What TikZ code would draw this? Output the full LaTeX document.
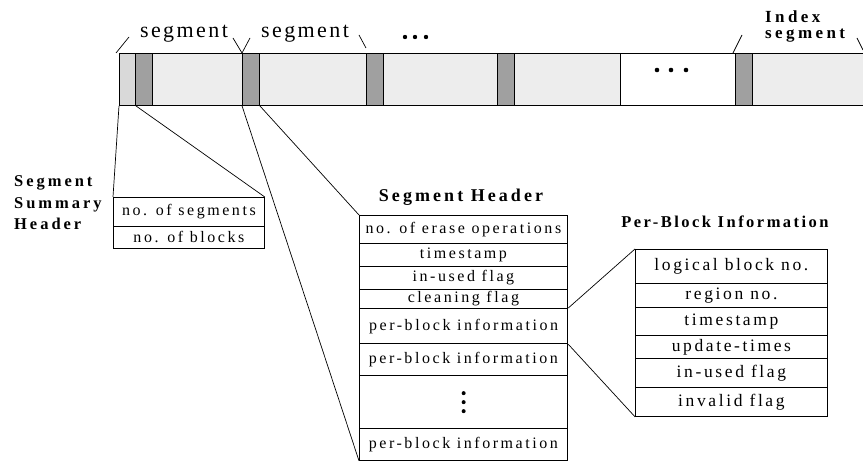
\documentclass[tikz,border=0pt]{standalone}
\usepackage{fontspec}
\setmainfont{Liberation Serif}
\newfontfamily\boxfont[LetterSpace=16]{Liberation Serif}
\newfontfamily\pbboxfont[LetterSpace=15]{Liberation Serif}
\newfontfamily\labfont[LetterSpace=11]{Liberation Serif}
\newfontfamily\headfont[LetterSpace=18]{Liberation Serif}
\newfontfamily\idxfont[LetterSpace=20]{Liberation Serif}
\newfontfamily\shfont[LetterSpace=17]{Liberation Serif}
\newfontfamily\pbfont[LetterSpace=15]{Liberation Serif}

\definecolor{blksum}{HTML}{D9D9D9}
\definecolor{blklight}{HTML}{EDEDED}
\definecolor{blkdark}{HTML}{A0A0A0}

\tikzset{
  cell/.style={draw=black, line width=0.8pt, anchor=north west, inner sep=0pt,
               minimum height=52pt},
  hdcell/.style={cell, fill=blkdark, minimum width=17pt},
  row/.style={draw=black, line width=0.8pt, anchor=north west, inner sep=0pt,
              font=\boxfont\fontsize{16}{18}\selectfont},
  shrow/.style={row, minimum width=208pt},
  pbrow/.style={row, minimum width=192pt, font=\pbboxfont\fontsize{17.5}{19}\selectfont},
  ssrow/.style={row, minimum width=151pt},
  toplab/.style={inner sep=0pt, anchor=base, font=\labfont\fontsize{22}{24}\selectfont},
  headlab/.style={inner sep=0pt, font=\headfont\bfseries\fontsize{16.5}{18}\selectfont},
  link/.style={draw=black, line width=0.7pt},
}

\begin{document}
\begin{tikzpicture}[x=1pt, y=-1pt]
\useasboundingbox (0,0) rectangle (863,462);

% ---- the flash layout bar ----
\node[cell, fill=blksum, minimum width=16pt] (c0) at (119,53) {};
\node[hdcell] (d1) at (135,53) {};
\node[cell, fill=blklight, minimum width=90pt] (l1) at (152,53) {};
\node[hdcell] (d2) at (242,53) {};
\node[cell, fill=blklight, minimum width=107pt] (l2) at (259,53) {};
\node[hdcell] (d3) at (366,53) {};
\node[cell, fill=blklight, minimum width=114pt] (l3) at (383,53) {};
\node[hdcell] (d4) at (497,53) {};
\node[cell, fill=blklight, minimum width=106pt] (l4) at (514,53) {};
\node[cell, fill=white, minimum width=115pt] (w1) at (620,53) {};
\node[hdcell] (d5) at (735,53) {};
\node[cell, fill=blklight, minimum width=112pt] (l5) at (752,53) {};

% dots inside the unused region
\foreach \xx in {657,671,686} \fill (\xx,70) circle (2.3pt);

% ---- labels above the bar ----
\draw[link] (116,53) -- (129,37);
\node[toplab] (sega) at (184,38) {segment};
\draw[link] (233,38) -- (242,53) -- (250,38);
\node[toplab] (segb) at (305,38) {segment};
\draw[link] (359,35) -- (366,48);
\foreach \xx in {405,415,426} \fill (\xx,37) circle (2.2pt);
\draw[link] (733,53) -- (742,35);
\node[headlab, font=\idxfont\bfseries\fontsize{17}{19}\selectfont, anchor=base west] (idxa) at (765,23) {Index};
\node[headlab, font=\idxfont\bfseries\fontsize{17}{19}\selectfont, anchor=base west] (idxb) at (765,39) {segment};
\draw[link] (857,38) -- (863,50);

% ---- segment summary header ----
\node[headlab, anchor=base west] (ssa) at (14,187) {Segment};
\node[headlab, anchor=base west] (ssb) at (14,209) {Summary};
\node[headlab, anchor=base west] (ssc) at (14,230) {Header};
\node[ssrow, minimum height=29pt] (ss1) at (113,197) {no. of segments};
\node[ssrow, minimum height=22pt] (ss2) at (113,226) {no. of blocks};

% ---- segment header ----
\node[headlab, font=\shfont\bfseries\fontsize{18}{20}\selectfont, anchor=base] (shlab) at (461,202) {Segment Header};
\node[shrow, minimum height=28pt] (sh1) at (359,215) {no. of erase operations};
\node[shrow, minimum height=23pt] (sh2) at (359,243) {timestamp};
\node[shrow, minimum height=23pt] (sh3) at (359,266) {in-used flag};
\node[shrow, minimum height=19pt] (sh4) at (359,289) {cleaning flag};
\node[shrow, minimum height=35pt, line width=1.3pt] (sh5) at (359,308) {per-block information};
\node[shrow, minimum height=32pt] (sh6) at (359,343) {per-block information};
\node[shrow, minimum height=53pt, line width=1.3pt] (sh7) at (359,375) {};
\node[shrow, minimum height=32pt] (sh8) at (359,428) {per-block information};
\foreach \dy in {-9,0,9} \fill ([yshift=\dy pt]sh7.center) circle (2pt);

% ---- per-block information ----
\node[headlab, font=\pbfont\bfseries\fontsize{16.5}{18}\selectfont, anchor=base] (pblab) at (725,228) {Per-Block Information};
\node[pbrow, minimum height=34pt] (pb1) at (635,249) {logical block no.};
\node[pbrow, minimum height=24pt] (pb2) at (635,283) {region no.};
\node[pbrow, minimum height=28pt] (pb3) at (635,307) {timestamp};
\node[pbrow, minimum height=23pt] (pb4) at (635,335) {update-times};
\node[pbrow, minimum height=29pt] (pb5) at (635,358) {in-used flag};
\node[pbrow, minimum height=29pt] (pb6) at (635,387) {invalid flag};

% ---- zoom lines ----
\draw[link] (c0.south west) -- (ss1.north west);
\draw[link] (c0.south east) -- (ss1.north east);
\draw[link] (d2.south west) -- (sh8.south west);
\draw[link] (d2.south east) -- (sh1.north west);
\draw[link] (sh5.north east) -- (pb1.north west);
\draw[link] (sh5.south east) -- (pb6.south west);
\end{tikzpicture}
\end{document}
